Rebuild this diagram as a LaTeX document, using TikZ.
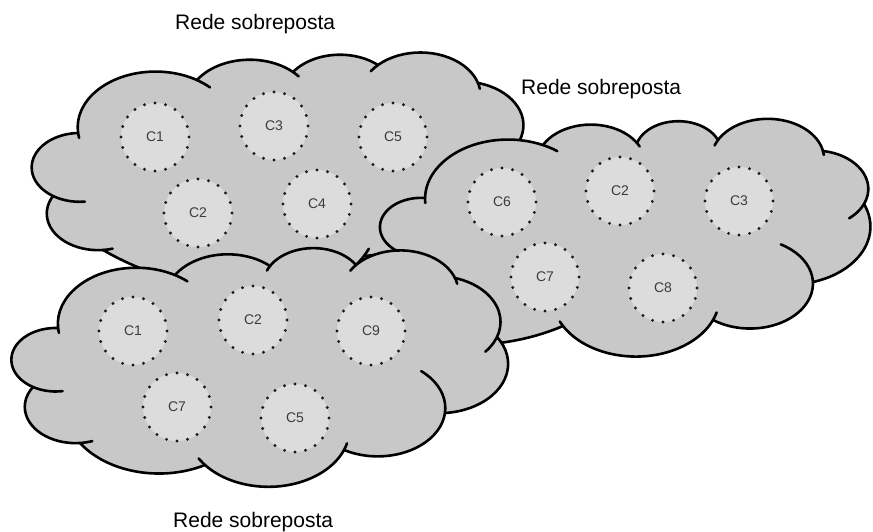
\documentclass[tikz,border=0pt]{standalone}
\usepackage{fontspec}
\setmainfont{Liberation Sans}
\definecolor{cloudgray}{RGB}{200,200,200}
\definecolor{cellgray}{RGB}{220,220,220}
\definecolor{dotcol}{RGB}{25,25,25}
\definecolor{txtgray}{RGB}{60,60,60}
\newcommand\lobecalc[5]{%
  \pgfmathsetmacro\CLxa{#1/1.4}%
  \pgfmathsetmacro\CLya{531-#2}%
  \pgfmathsetmacro\CLxb{#3/1.4}%
  \pgfmathsetmacro\CLyb{531-#4}%
  \pgfmathsetmacro\CLdx{\CLxb-\CLxa}%
  \pgfmathsetmacro\CLdy{\CLyb-\CLya}%
  \pgfmathsetmacro\CLc{veclen(\CLdx,\CLdy)}%
  \pgfmathsetmacro\CLphi{atan2(\CLdy,\CLdx)}%
  \pgfmathsetmacro\CLr{\CLc/(2*sin(#5))}%
  \pgfmathsetmacro\CLh{\CLr*cos(#5)}%
  \pgfmathsetmacro\CLcx{(\CLxa+\CLxb)/2+\CLh*cos(\CLphi-90)}%
  \pgfmathsetmacro\CLcy{(\CLya+\CLyb)/2+\CLh*sin(\CLphi-90)}%
  \pgfmathsetmacro\CLsa{atan2(\CLya-\CLcy,\CLxa-\CLcx)}%
  \pgfmathsetmacro\CLea{\CLsa-2*#5}%
}
\newcommand\drawcloud[3]{%
  \begin{scope}[xscale=1.4]
  \gdef\CLpath{}%
  \foreach \qa/\qb/\qc/\qd/\qal/\qs/\qe in {#3}{%
    \lobecalc{\qa}{\qb}{\qc}{\qd}{\qal}%
    \xdef\CLpath{\CLpath arc[start angle=\CLsa, end angle=\CLea, radius=\CLr]}%
  }%
  \fill[cloudfill] ({#1/1.4},{531-#2}) \CLpath -- cycle;
  \foreach \qa/\qb/\qc/\qd/\qal/\qs/\qe in {#3}{%
    \lobecalc{\qa}{\qb}{\qc}{\qd}{\qal}%
    \pgfmathsetmacro\CLs{\CLsa+\qs*57.2958/\CLr}%
    \pgfmathsetmacro\CLe{\CLea-\qe*57.2958/\CLr}%
    \draw[cloudline] (\CLcx,\CLcy) ++(\CLs:\CLr) arc[start angle=\CLs, end angle=\CLe, radius=\CLr];
  }%
  \end{scope}
}
\tikzset{
  cloudfill/.style={fill=cloudgray},
  cloudline/.style={draw=black, line width=2.6pt, line cap=round},
  cell/.style={circle, minimum size=68pt, inner sep=0pt, fill=cellgray, draw=dotcol,
    line width=3.2pt, dash pattern=on 0pt off 10.68pt, line cap=round,
    text=txtgray, font=\fontsize{14}{15}\selectfont},
  lbl/.style={font=\fontsize{21}{24}\selectfont, anchor=base west, inner sep=0pt},
}
\begin{document}
\begin{tikzpicture}[x=1pt,y=1pt]
\useasboundingbox (0,0) rectangle (873,531);
% cloud 1 (top left)
\drawcloud{103}{250}{103/250/53/196/62/7/0, 53/196/78/133/72/24/0, 78/133/197/80/64/5/12,
  197/80/293/72/50/0/6, 293/72/378/65/48/0/0, 378/65/478/83/59/8/6,
  478/83/493/163/67.5/0/0, 493/163/364/256/40/0/0, 364/256/235/292/40/8/0,
  235/292/103/250/15/0/0}
\node[cell] (a1) at (155,{531-137}) {C1};
\node[cell] (a3) at (274,{531-126}) {C3};
\node[cell] (a5) at (393,{531-137}) {C5};
\node[cell] (a2) at (198,{531-213}) {C2};
\node[cell] (a4) at (317,{531-204}) {C4};
% cloud 2 (right)
\drawcloud{414}{256}{414/256/425/198/88/0/0, 425/198/543/145/57/5/12, 543/145/637/143/60/0/4,
  637/143/718/140/70/0/0, 718/140/823/151/70/6/4, 823/151/864/204/52/0/18,
  864/204/813/282/48/0/0, 813/282/713/320/64/46/0, 713/320/563/326/64/8/5,
  563/326/470/345/15/0/0, 470/345/414/256/30/0/0}
\node[cell] (b6) at (502,{531-202}) {C6};
\node[cell] (b2) at (620,{531-191}) {C2};
\node[cell] (b3) at (739,{531-201}) {C3};
\node[cell] (b7) at (545,{531-277}) {C7};
\node[cell] (b8) at (663,{531-288}) {C8};
% cloud 3 (bottom)
\drawcloud{33}{387}{33/387/58/328/76/22/0, 58/328/175/275/62/5/11, 175/275/270/266/50/0/0,
  270/266/356/265/59/5/0, 356/265/455/278/60/7/6, 455/278/497/337/46/0/17,
  497/337/445/413/59/0/0, 445/413/344/450/57/47/0, 344/450/205/465/60/7/8,
  205/465/80/443/43/0/0, 80/443/33/387/64/9/0}
\node[cell] (d1) at (133,{531-331}) {C1};
\node[cell] (d2) at (253,{531-320}) {C2};
\node[cell] (d9) at (371,{531-331}) {C9};
\node[cell] (d7) at (177,{531-407}) {C7};
\node[cell] (d5) at (295,{531-418}) {C5};
% labels
\node[lbl] (t1) at (175,{531-30}) {Rede sobreposta};
\node[lbl] (t2) at (521,{531-95}) {Rede sobreposta};
\node[lbl] (t3) at (173,{531-527}) {Rede sobreposta};
\end{tikzpicture}
\end{document}
